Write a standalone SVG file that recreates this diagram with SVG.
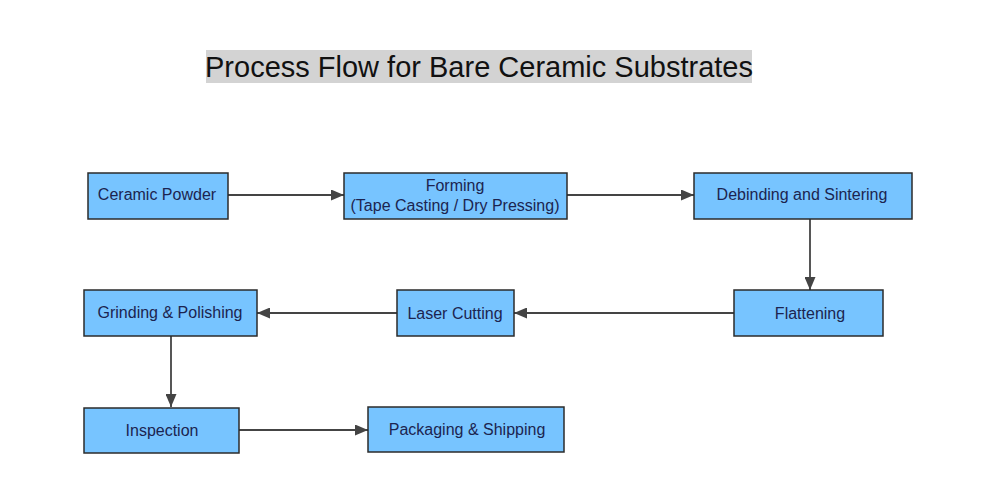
<svg xmlns="http://www.w3.org/2000/svg" width="1000" height="500" viewBox="0 0 1000 500">
<defs>
<style>
.node rect{fill:#77C4FF;stroke:#2b2b2b;stroke-width:1.5}
.node text{font-family:"Liberation Sans",Arial,sans-serif;font-size:16px;fill:#1c2450;text-anchor:middle}
.edge{stroke:#444;stroke-width:1.8;fill:none;marker-end:url(#arr)}
.title{font-family:"Liberation Sans",Arial,sans-serif;font-size:29px;fill:#111;text-anchor:middle}
</style>
<marker id="arr" viewBox="0 0 13 11" refX="13" refY="5.5" markerWidth="13" markerHeight="11" markerUnits="userSpaceOnUse" orient="auto">
<path d="M0,0 L13,5.5 L0,11 z" fill="#444"/>
</marker>
</defs>
<rect width="1000" height="500" fill="#fff"/>
<g id="title">
<rect x="206" y="50" width="546" height="33" fill="#d3d3d3"/>
<text class="title" x="479" y="77">Process Flow for Bare Ceramic Substrates</text>
</g>
<g id="connectors">
<line class="edge" x1="228" y1="195" x2="344" y2="195"/>
<line class="edge" x1="567" y1="195" x2="694" y2="195"/>
<line class="edge" x1="810" y1="219" x2="810" y2="290"/>
<line class="edge" x1="734" y1="313" x2="514" y2="313"/>
<line class="edge" x1="397" y1="313" x2="257" y2="313"/>
<line class="edge" x1="171" y1="336" x2="171" y2="407"/>
<line class="edge" x1="239" y1="430" x2="368" y2="430"/>
</g>
<g id="ceramic-powder" class="node">
<rect x="88" y="173" width="140" height="46"/>
<text x="157" y="200">Ceramic Powder</text>
</g>
<g id="forming" class="node">
<rect x="344" y="173" width="223" height="46"/>
<text x="455" y="191">Forming</text>
<text x="455" y="211">(Tape Casting / Dry Pressing)</text>
</g>
<g id="debinding" class="node">
<rect x="694" y="173" width="218" height="46"/>
<text x="802" y="200">Debinding and Sintering</text>
</g>
<g id="flattening" class="node">
<rect x="734" y="290" width="149" height="46"/>
<text x="810" y="319">Flattening</text>
</g>
<g id="laser-cutting" class="node">
<rect x="397" y="290" width="117" height="46"/>
<text x="455" y="319">Laser Cutting</text>
</g>
<g id="grinding" class="node">
<rect x="84" y="290" width="173" height="46"/>
<text x="170" y="318">Grinding &amp; Polishing</text>
</g>
<g id="inspection" class="node">
<rect x="84" y="408" width="155" height="45"/>
<text x="162" y="436">Inspection</text>
</g>
<g id="packaging" class="node">
<rect x="368" y="407" width="196" height="45"/>
<text x="467" y="435">Packaging &amp; Shipping</text>
</g>
</svg>
